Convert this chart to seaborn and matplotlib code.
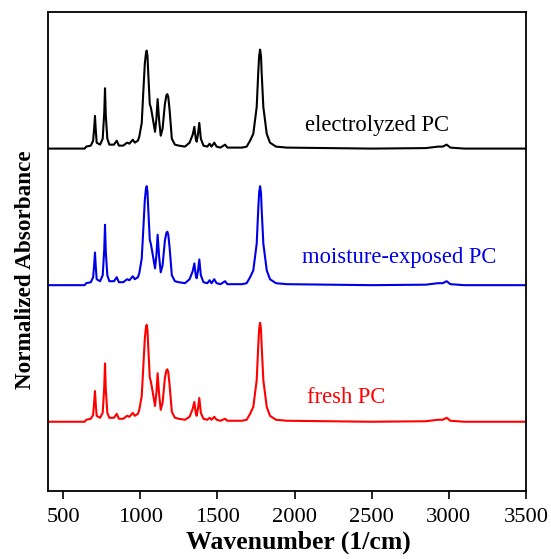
import matplotlib
matplotlib.use("Agg")
import matplotlib.pyplot as plt
import numpy as np
import pandas as pd
import seaborn as sns

# Wavenumber grid (1/cm) shared by the three spectra
wavenumber = [
    400, 640, 650, 680, 695, 702, 707, 712, 718, 740, 757, 767, 772, 777, 787,
    800, 830, 848, 862, 890, 915, 930, 952, 965, 985, 994, 1010, 1020, 1030,
    1037, 1042, 1047, 1052, 1062, 1070, 1080, 1096, 1105, 1113, 1122, 1133, 1145,
    1160, 1170, 1176, 1182, 1190, 1205, 1225, 1250, 1290, 1320, 1340, 1351, 1360,
    1366, 1375, 1383, 1393, 1410, 1435, 1450, 1462, 1480, 1495, 1520, 1550, 1565,
    1600, 1660, 1690, 1712, 1733, 1755, 1765, 1771, 1777, 1783, 1787, 1798, 1820,
    1841, 1880, 1950, 2500, 2850, 2930, 2960, 2986, 3010, 3100, 3500,
]

# Normalized absorbance of each sample
fresh = [
    0.00, 0.00, 0.02, 0.03, 0.07, 0.20, 0.31, 0.18, 0.06, 0.04, 0.09, 0.35, 0.59,
    0.33, 0.09, 0.04, 0.04, 0.08, 0.03, 0.03, 0.06, 0.05, 0.09, 0.06, 0.08, 0.12,
    0.26, 0.55, 0.84, 0.95, 0.98, 0.93, 0.76, 0.45, 0.40, 0.31, 0.16, 0.29, 0.49,
    0.29, 0.12, 0.19, 0.44, 0.52, 0.53, 0.50, 0.38, 0.10, 0.04, 0.03, 0.02, 0.05,
    0.13, 0.20, 0.09, 0.06, 0.14, 0.24, 0.09, 0.03, 0.02, 0.04, 0.02, 0.05, 0.02,
    0.01, 0.03, 0.01, 0.01, 0.01, 0.02, 0.08, 0.15, 0.42, 0.77, 0.94, 1.00, 0.93,
    0.77, 0.42, 0.15, 0.06, 0.02, 0.01, 0.00, 0.005, 0.02, 0.02, 0.04, 0.01, 0.00,
    0.00,
]
moisture = [
    0.00, 0.00, 0.02, 0.03, 0.08, 0.21, 0.33, 0.19, 0.06, 0.04, 0.10, 0.36, 0.61,
    0.34, 0.10, 0.04, 0.04, 0.08, 0.03, 0.03, 0.06, 0.05, 0.09, 0.06, 0.08, 0.12,
    0.27, 0.56, 0.86, 0.97, 1.00, 0.95, 0.78, 0.46, 0.41, 0.32, 0.17, 0.30, 0.51,
    0.30, 0.13, 0.20, 0.45, 0.53, 0.54, 0.51, 0.39, 0.10, 0.04, 0.03, 0.02, 0.06,
    0.14, 0.22, 0.10, 0.07, 0.15, 0.26, 0.10, 0.03, 0.02, 0.05, 0.02, 0.06, 0.02,
    0.01, 0.04, 0.01, 0.01, 0.01, 0.02, 0.08, 0.15, 0.42, 0.77, 0.94, 1.00, 0.93,
    0.77, 0.42, 0.15, 0.06, 0.02, 0.01, 0.00, 0.005, 0.02, 0.02, 0.04, 0.01, 0.00,
    0.00,
]
electrolyzed = [
    0.00, 0.00, 0.02, 0.03, 0.08, 0.21, 0.33, 0.19, 0.06, 0.04, 0.10, 0.36, 0.61,
    0.34, 0.10, 0.04, 0.04, 0.08, 0.03, 0.03, 0.06, 0.05, 0.09, 0.06, 0.08, 0.12,
    0.26, 0.57, 0.86, 0.96, 0.99, 0.94, 0.77, 0.45, 0.41, 0.32, 0.17, 0.30, 0.50,
    0.30, 0.13, 0.20, 0.45, 0.54, 0.55, 0.52, 0.40, 0.10, 0.04, 0.03, 0.02, 0.06,
    0.14, 0.22, 0.10, 0.07, 0.15, 0.26, 0.10, 0.03, 0.02, 0.05, 0.02, 0.06, 0.02,
    0.01, 0.04, 0.01, 0.01, 0.01, 0.02, 0.08, 0.15, 0.42, 0.77, 0.94, 1.00, 0.93,
    0.77, 0.42, 0.15, 0.06, 0.02, 0.01, 0.00, 0.005, 0.02, 0.02, 0.04, 0.01, 0.00,
    0.00,
]

labels = ["fresh PC", "moisture-exposed PC", "electrolyzed PC"]
colors = ["#ff0000", "#0000e6", "#000000"]
offsets = [0.0, 1.38, 2.76]
xticks = [500, 1000, 1500, 2000, 2500, 3000, 3500]

sns.set_theme(style="white")
plt.rcParams["font.family"] = ["Liberation Serif", "DejaVu Serif"]

frames = []
for name, vals, off in zip(labels, [fresh, moisture, electrolyzed], offsets):
    frames.append(pd.DataFrame({
        "wavenumber": wavenumber,
        "absorbance": np.asarray(vals) + off,
        "sample": name,
    }))
df = pd.concat(frames, ignore_index=True)

fig = plt.figure(figsize=(5.51, 5.59), dpi=100)
ax = fig.add_axes([0.0864, 0.1216, 0.8682, 0.8569])

sns.lineplot(data=df, x="wavenumber", y="absorbance", hue="sample",
             hue_order=labels, palette=colors, sort=False, estimator=None,
             linewidth=1.5, legend=False, ax=ax)

# Sample names next to each trace
label_pos = [(2081, 0.24), (2048, 1.66), (2068, 2.99)]
for name, col, (lx, ly) in zip(labels, colors, label_pos):
    ax.text(lx, ly, name, color=col, fontsize=16.3, ha="left", va="center")

ax.set_xlim(400, 3500)
ax.set_ylim(-0.70, 4.14)
ax.set_xticks(xticks)
ax.set_xticklabels([str(t) for t in xticks])
ax.set_yticks([])
ax.tick_params(axis="x", direction="out", length=6, width=1.2, labelsize=16.2,
               pad=6, bottom=True, color="black", labelcolor="black")
for sp in ax.spines.values():
    sp.set_color("black")
    sp.set_linewidth(1.3)

ax.set_xlabel("Wavenumber (1/cm)", fontsize=18.5, fontweight="bold", labelpad=3,
              color="black", x=0.5245)
ax.set_ylabel("Normalized Absorbance", fontsize=16.7, fontweight="bold",
              labelpad=8, color="black", y=0.4614)

fig.savefig("out.png", dpi=100)
